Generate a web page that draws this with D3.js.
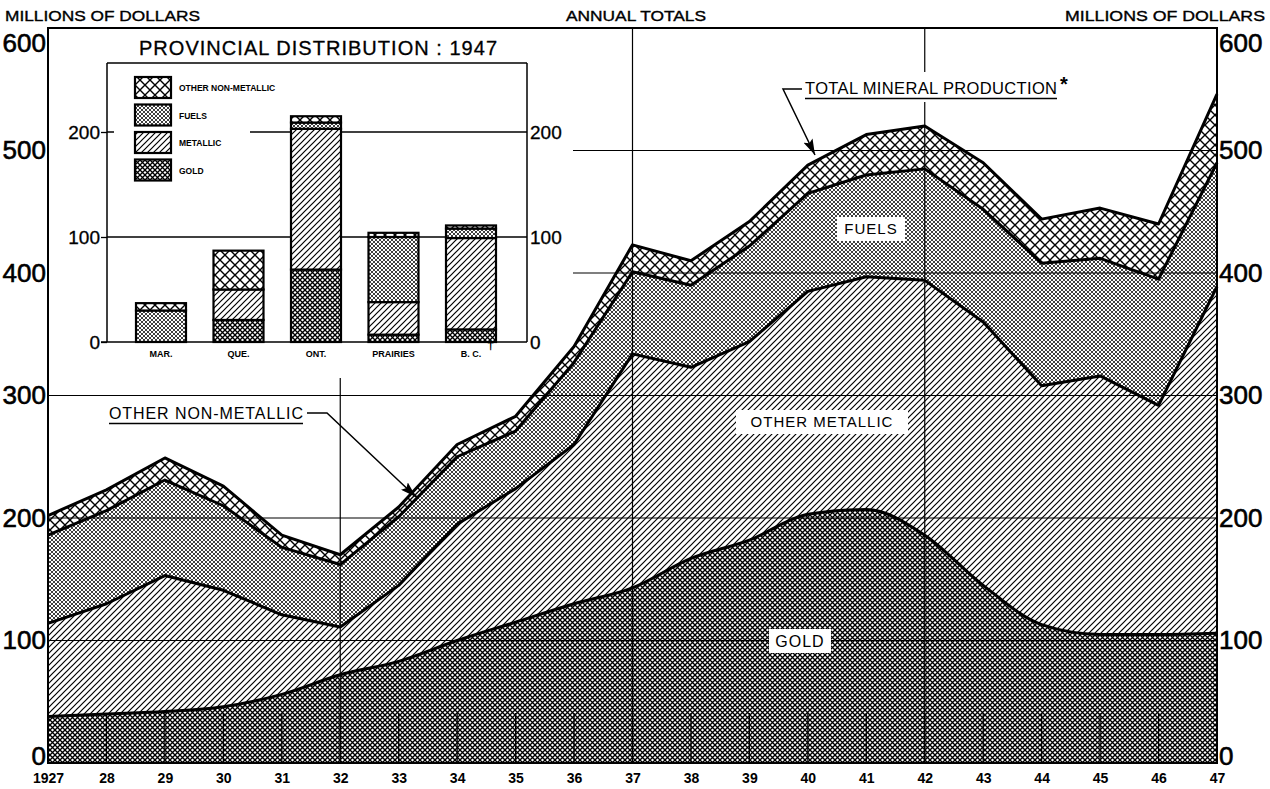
<!DOCTYPE html>
<html>
<head>
<meta charset="utf-8">
<script src="https://cdn.jsdelivr.net/npm/d3@7"></script>
<style>
  body { margin: 0; background: #fff; }
  svg { display: block; font-family: "Liberation Sans", Arial, sans-serif; }
</style>
</head>
<body>
<svg id="chart" width="1270" height="789"></svg>
<script>
// values, millions of dollars
const years = [1927, 1928, 1929, 1930, 1931, 1932, 1933, 1934, 1935, 1936, 1937,
               1938, 1939, 1940, 1941, 1942, 1943, 1944, 1945, 1946, 1947];
const yearLabels = ["1927", "28", "29", "30", "31", "32", "33", "34", "35", "36", "37",
                    "38", "39", "40", "41", "42", "43", "44", "45", "46", "47"];
const gold             = [38, 40, 42, 46, 56, 72, 83, 100, 115, 130, 143, 167, 182, 203, 207, 186, 145, 113, 105, 105, 106];
const otherMetallic    = [76, 90, 111, 95, 65, 39, 62, 95, 109, 130, 191, 156, 162, 182, 190, 208, 215, 195, 211, 187, 283];
const fuels            = [72, 76, 78, 69, 55, 51, 56, 55, 47, 67, 67, 67, 78, 80, 83, 91, 92, 100, 96, 103, 101];
const otherNonMetallic = [16, 17, 18, 16, 10, 8, 8, 10, 12, 13, 22, 20, 20, 23, 33, 35, 38, 36, 41, 45, 56];
const yTicks = [0, 100, 200, 300, 400, 500, 600];

// inset: provincial distribution 1947
const provinces     = ["MAR.", "QUE.", "ONT.", "PRAIRIES", "B. C."];
const provGold      = [0, 21, 69, 7, 12];
const provMetallic  = [0, 29, 134, 31, 87];
const provFuels     = [30, 0, 6, 62, 9];
const provOther     = [7, 37, 6, 4, 3];
const insetTicks    = [0, 100, 200];

const svg = d3.select("#chart");
const defs = svg.append("defs");

function hatch(id, size, d, sw) {
  const p = defs.append("pattern").attr("id", id)
    .attr("patternUnits", "userSpaceOnUse")
    .attr("width", size).attr("height", size);
  p.append("rect").attr("width", size).attr("height", size).attr("fill", "#fff");
  p.append("path").attr("d", d).attr("stroke", "#000").attr("stroke-width", sw).attr("fill", "none");
}
const cross = s => `M-1,-1L${s + 1},${s + 1}M${s + 1},-1L-1,${s + 1}`;
hatch("pGold", 5, cross(5), 1.35);
hatch("pFuel", 4, cross(4), 0.75);
hatch("pNon", 10, cross(10), 1.4);
hatch("pMet", 6, "M-1,7L7,-1M-1,1L1,-1M5,7L7,5", 1.2);

defs.append("marker").attr("id", "arrow")
  .attr("viewBox", "0 0 16 10").attr("refX", 16).attr("refY", 5)
  .attr("markerWidth", 16).attr("markerHeight", 10)
  .attr("markerUnits", "userSpaceOnUse").attr("orient", "auto")
  .append("path").attr("d", "M0,0L16,5L0,10L3,5Z").attr("fill", "#000");

const keys = ["gold", "otherMetallic", "fuels", "otherNonMetallic"];
const patFor = {gold: "url(#pGold)", otherMetallic: "url(#pMet)", fuels: "url(#pFuel)", otherNonMetallic: "url(#pNon)"};
const curveFor = {gold: d3.curveMonotoneX, otherMetallic: d3.curveLinear, fuels: d3.curveLinear, otherNonMetallic: d3.curveLinear};

const x = d3.scaleLinear().domain([1927, 1947]).range([48, 1217]);
const y = d3.scaleLinear().domain([0, 600]).range([763, 28]);

svg.append("rect").attr("width", 1270).attr("height", 789).attr("fill", "#fff");

// stacked areas, painted from the top layer down
const rows = years.map((yr, i) => ({year: yr, gold: gold[i], otherMetallic: otherMetallic[i],
  fuels: fuels[i], otherNonMetallic: otherNonMetallic[i]}));
const layers = d3.stack().keys(keys)(rows);
const gArea = svg.append("g");
layers.slice().reverse().forEach(layer => {
  gArea.append("path").datum(layer)
    .attr("fill", patFor[layer.key])
    .attr("d", d3.area().x(d => x(d.data.year)).y0(y(0)).y1(d => y(d[1])).curve(curveFor[layer.key]));
});

// grid
const grid = svg.append("g").attr("stroke", "#000").attr("stroke-width", 1.2);
yTicks.filter(v => v > 0 && v < 600).forEach(v => {
  grid.append("line").attr("x1", v >= 400 ? 573 : x(1927)).attr("x2", x(1947)).attr("y1", y(v)).attr("y2", y(v));
});
[1932, 1937, 1942].forEach(yr => {
  grid.append("line").attr("x1", x(yr)).attr("x2", x(yr)).attr("y1", yr === 1932 ? 378 : y(600)).attr("y2", y(0));
});
years.forEach(yr => {
  grid.append("line").attr("x1", x(yr)).attr("x2", x(yr)).attr("y1", y(0)).attr("y2", y(0) - 50);
});

// layer boundaries
layers.forEach(layer => {
  svg.append("path").datum(layer)
    .attr("fill", "none").attr("stroke", "#000").attr("stroke-width", 3).attr("stroke-linejoin", "round")
    .attr("d", d3.line().x(d => x(d.data.year)).y(d => y(d[1])).curve(curveFor[layer.key]));
});

// ---------- inset ----------
const inset = svg.append("g");
inset.append("text").attr("x", 318).attr("y", 55).attr("text-anchor", "middle")
  .attr("font-size", 20).attr("textLength", 358).attr("lengthAdjust", "spacing")
  .attr("stroke", "#000").attr("stroke-width", 0.3)
  .text("PROVINCIAL DISTRIBUTION : 1947");

const xi = d3.scalePoint().domain(provinces).range([161, 471]);
const yi = d3.scaleLinear().domain([0, 100]).range([342, 237]);

insetTicks.filter(v => v > 0).forEach(v => {
  inset.append("line").attr("x1", 107).attr("x2", 527).attr("y1", yi(v)).attr("y2", yi(v))
    .attr("stroke", "#000").attr("stroke-width", 1.3);
});
inset.append("rect").attr("x", 114).attr("y", 69).attr("width", 136).attr("height", 120).attr("fill", "#fff");
inset.append("line").attr("x1", 107).attr("x2", 527).attr("y1", 63).attr("y2", 63).attr("stroke", "#000").attr("stroke-width", 1.5);

const axL = inset.append("g").attr("transform", "translate(107,0)")
  .call(d3.axisLeft(yi).tickValues(insetTicks).tickSize(6).tickPadding(1));
const axR = inset.append("g").attr("transform", "translate(527,0)")
  .call(d3.axisRight(yi).tickValues(insetTicks).tickSize(0).tickPadding(3));
[axL, axR].forEach(a => {
  a.select(".domain").attr("d", "M0,63V342").attr("stroke-width", 1.5);
  a.selectAll("line").attr("stroke-width", 1.3);
  a.selectAll("text").attr("font-size", 19).attr("font-family", "Liberation Sans, Arial, sans-serif").attr("fill", "#000")
    .attr("stroke", "#000").attr("stroke-width", 0.3);
});
inset.append("line").attr("x1", 101).attr("x2", 527).attr("y1", yi(0)).attr("y2", yi(0)).attr("stroke", "#000").attr("stroke-width", 1.5);

const provRows = provinces.map((p, i) => ({prov: p, gold: provGold[i], otherMetallic: provMetallic[i],
  fuels: provFuels[i], otherNonMetallic: provOther[i]}));
const provLayers = d3.stack().keys(keys)(provRows);
provLayers.forEach(layer => {
  inset.selectAll(null).data(layer.filter(d => d[1] > d[0])).join("rect")
    .attr("x", d => xi(d.data.prov) - 25).attr("width", 50)
    .attr("y", d => yi(d[1])).attr("height", d => yi(d[0]) - yi(d[1]))
    .attr("fill", patFor[layer.key]).attr("stroke", "#000").attr("stroke-width", 2.2);
});
inset.selectAll(null).data(provinces).join("text")
  .attr("x", d => xi(d)).attr("y", 357).attr("text-anchor", "middle")
  .attr("font-size", 9).attr("font-weight", "bold").text(d => d);
inset.append("text").attr("x", xi("B. C.") + 16).attr("y", 349).attr("font-size", 13).attr("font-weight", "bold").text("\u2020");

const legendItems = [
  {key: "otherNonMetallic", label: "OTHER NON-METALLIC"},
  {key: "fuels", label: "FUELS"},
  {key: "otherMetallic", label: "METALLIC"},
  {key: "gold", label: "GOLD"}
];
legendItems.forEach((it, i) => {
  const ly = 77 + i * 27.5;
  inset.append("rect").attr("x", 135).attr("y", ly).attr("width", 36).attr("height", 21)
    .attr("fill", patFor[it.key]).attr("stroke", "#000").attr("stroke-width", 2.2);
  inset.append("text").attr("x", 179).attr("y", ly + 14).attr("font-size", 8.5).attr("font-weight", "bold").text(it.label);
});

// frame
svg.append("rect").attr("x", x(1927)).attr("y", y(600)).attr("width", x(1947) - x(1927)).attr("height", y(0) - y(600))
  .attr("fill", "none").attr("stroke", "#000").attr("stroke-width", 2);

// axes
const axLeft = svg.append("g").attr("transform", `translate(${x(1927)},0)`)
  .call(d3.axisLeft(y).tickValues(yTicks).tickSize(0).tickPadding(2));
const axRight = svg.append("g").attr("transform", `translate(${x(1947)},0)`)
  .call(d3.axisRight(y).tickValues(yTicks).tickSize(0).tickPadding(2));
[axLeft, axRight].forEach(a => {
  a.select(".domain").remove();
  a.selectAll("text").attr("font-size", 26).attr("font-family", "Liberation Sans, Arial, sans-serif").attr("fill", "#000")
    .attr("stroke", "#000").attr("stroke-width", 0.6)
    .attr("dy", d => d === 600 ? "0.9em" : d === 0 ? "0.05em" : "0.32em");
});
const axBottom = svg.append("g").attr("transform", `translate(0,${y(0)})`)
  .call(d3.axisBottom(x).tickValues(years).tickFormat((d, i) => yearLabels[i]).tickSize(0).tickPadding(10));
axBottom.select(".domain").remove();
axBottom.selectAll("text").attr("font-size", 14).attr("font-weight", "bold")
  .attr("font-family", "Liberation Sans, Arial, sans-serif").attr("fill", "#000");

// headers
const hdr = svg.append("g").attr("font-size", 14).attr("stroke", "#000").attr("stroke-width", 0.35);
hdr.append("text").attr("x", 5).attr("y", 21).attr("textLength", 195).attr("lengthAdjust", "spacingAndGlyphs").text("MILLIONS OF DOLLARS");
hdr.append("text").attr("x", 636).attr("y", 21).attr("text-anchor", "middle").attr("textLength", 140).attr("lengthAdjust", "spacingAndGlyphs").text("ANNUAL TOTALS");
hdr.append("text").attr("x", 1065).attr("y", 21).attr("textLength", 200).attr("lengthAdjust", "spacingAndGlyphs").text("MILLIONS OF DOLLARS");

// labels on white patches
function boxLabel(cx, cy, txt, w, h, fs) {
  svg.append("rect").attr("x", cx - w / 2).attr("y", cy - h / 2).attr("width", w).attr("height", h).attr("fill", "#fff");
  svg.append("text").attr("x", cx).attr("y", cy).attr("dy", "0.36em").attr("text-anchor", "middle")
    .attr("font-size", fs).attr("letter-spacing", 1).text(txt);
}
boxLabel(871, 229, "FUELS", 68, 24, 15);
boxLabel(822, 422, "OTHER METALLIC", 172, 24, 15);
boxLabel(800, 641, "GOLD", 62, 24, 16);

// annotations
svg.append("rect").attr("x", 800).attr("y", 72).attr("width", 272).attr("height", 30).attr("fill", "#fff");
svg.append("text").attr("x", 805).attr("y", 94).attr("font-size", 16.5)
  .attr("textLength", 252).attr("lengthAdjust", "spacing").text("TOTAL MINERAL PRODUCTION");
svg.append("line").attr("x1", 805).attr("x2", 1057).attr("y1", 98.5).attr("y2", 98.5).attr("stroke", "#000").attr("stroke-width", 1.4);
svg.append("text").attr("x", 1060).attr("y", 91).attr("font-size", 20).attr("font-weight", "bold").text("*");
svg.append("path").attr("d", "M802,89L783,89L815,155").attr("fill", "none").attr("stroke", "#000")
  .attr("stroke-width", 1.5).attr("marker-end", "url(#arrow)");

svg.append("text").attr("x", 109).attr("y", 419).attr("font-size", 16)
  .attr("textLength", 194).attr("lengthAdjust", "spacing").text("OTHER NON-METALLIC");
svg.append("line").attr("x1", 109).attr("x2", 303).attr("y1", 423.5).attr("y2", 423.5).attr("stroke", "#000").attr("stroke-width", 1.4);
svg.append("path").attr("d", "M307,413L327,413L416,497").attr("fill", "none").attr("stroke", "#000")
  .attr("stroke-width", 1.5).attr("marker-end", "url(#arrow)");
</script>
</body>
</html>
